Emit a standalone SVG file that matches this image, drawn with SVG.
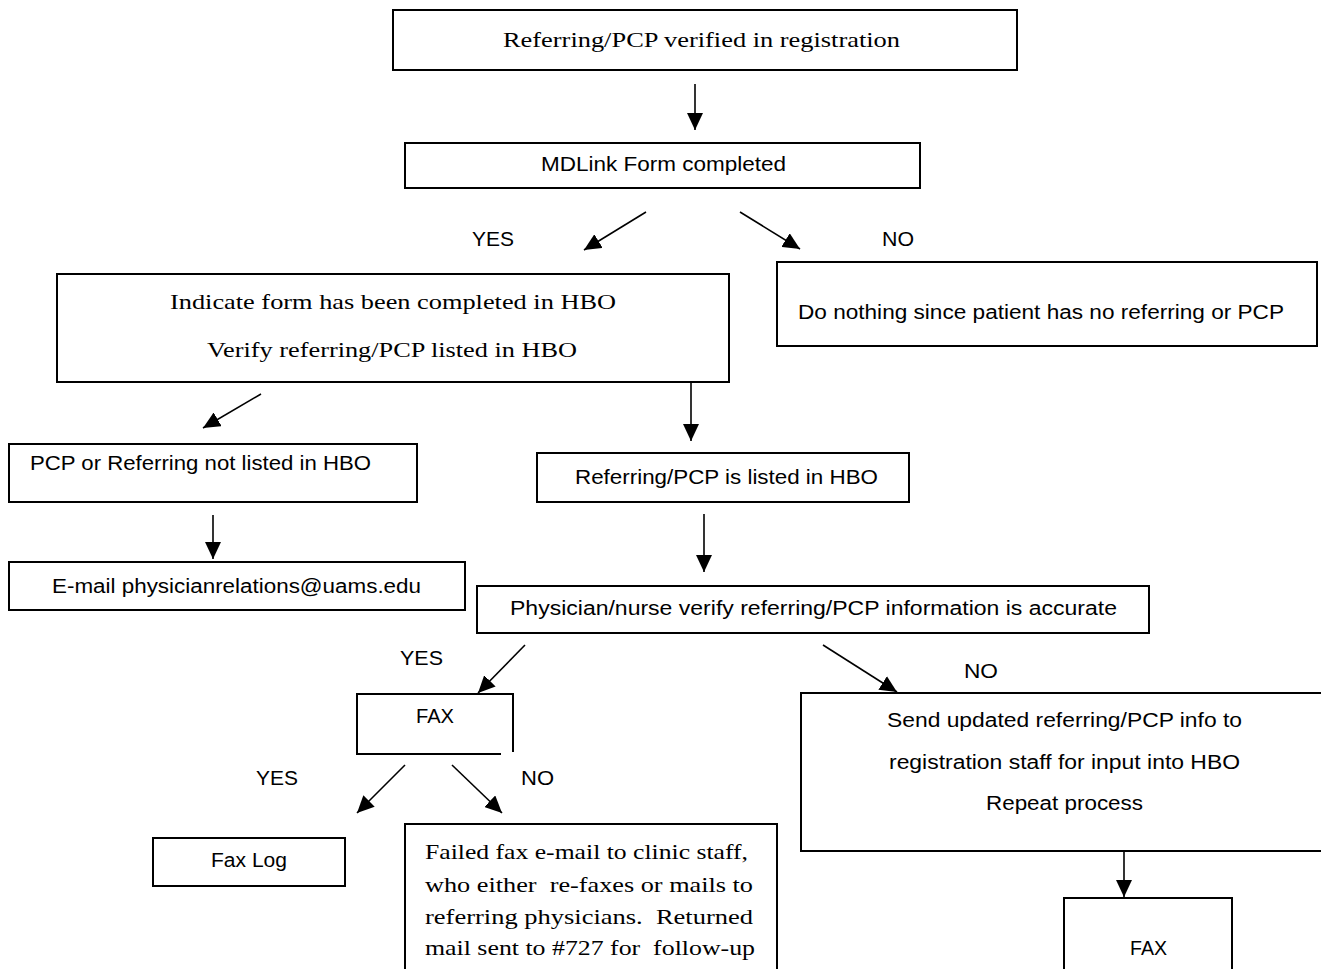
<svg xmlns="http://www.w3.org/2000/svg" width="1321" height="969" viewBox="0 0 1321 969">
<style>
.box{fill:#fff;stroke:#000;stroke-width:2}
.sans{font-family:"Liberation Sans",Arial,sans-serif;font-size:19.5px;fill:#000}
.serif{font-family:"Liberation Serif","Times New Roman",serif;font-size:21px;fill:#000}
.serif2{font-family:"Liberation Serif","Times New Roman",serif;font-size:22px;fill:#000;white-space:pre}
.con{stroke:#000;stroke-width:1.6;fill:none;marker-end:url(#ah)}
</style>
<defs>
<marker id="ah" markerWidth="18" markerHeight="16" refX="17" refY="8" orient="auto" markerUnits="userSpaceOnUse"><path d="M0,0 L17,8 L0,16 Z" fill="#000"/></marker>
</defs>
<rect width="1321" height="969" fill="#fff"/>
<g id="connectors">
<line class="con" x1="695" y1="84" x2="695" y2="130"/>
<line class="con" x1="646" y1="212" x2="584" y2="250"/>
<line class="con" x1="740" y1="212" x2="800" y2="249"/>
<line class="con" x1="261" y1="394" x2="203" y2="428"/>
<line class="con" x1="691" y1="382" x2="691" y2="441"/>
<line class="con" x1="213" y1="515" x2="213" y2="559"/>
<line class="con" x1="704" y1="514" x2="704" y2="572"/>
<line class="con" x1="525" y1="645" x2="478" y2="693"/>
<line class="con" x1="823" y1="645" x2="897" y2="692"/>
<line class="con" x1="405" y1="765" x2="357" y2="813"/>
<line class="con" x1="452" y1="765" x2="502" y2="813"/>
<line class="con" x1="1124" y1="851" x2="1124" y2="897"/>
</g>
<g id="labels">
<text class="sans" x="472" y="246" textLength="42" lengthAdjust="spacingAndGlyphs">YES</text>
<text class="sans" x="882" y="246" textLength="32" lengthAdjust="spacingAndGlyphs">NO</text>
<text class="sans" x="400" y="665" textLength="43" lengthAdjust="spacingAndGlyphs">YES</text>
<text class="sans" x="964" y="678" textLength="34" lengthAdjust="spacingAndGlyphs">NO</text>
<text class="sans" x="256" y="785" textLength="42" lengthAdjust="spacingAndGlyphs">YES</text>
<text class="sans" x="521" y="785" textLength="33" lengthAdjust="spacingAndGlyphs">NO</text>
</g>
<g id="n1">
<rect class="box" x="393" y="10" width="624" height="60"/>
<text class="serif" x="503" y="47" textLength="397" lengthAdjust="spacingAndGlyphs">Referring/PCP verified in registration</text>
</g>
<g id="n2">
<rect class="box" x="405" y="143" width="515" height="45"/>
<text class="sans" x="541" y="171" textLength="245" lengthAdjust="spacingAndGlyphs">MDLink Form completed</text>
</g>
<g id="n3">
<rect class="box" x="57" y="274" width="672" height="108"/>
<text class="serif" x="170" y="309" textLength="446" lengthAdjust="spacingAndGlyphs">Indicate form has been completed in HBO</text>
<text class="serif" x="207" y="357" textLength="370" lengthAdjust="spacingAndGlyphs">Verify referring/PCP listed in HBO</text>
</g>
<g id="n4">
<rect class="box" x="777" y="262" width="540" height="84"/>
<text class="sans" x="798" y="319" textLength="486" lengthAdjust="spacingAndGlyphs">Do nothing since patient has no referring or PCP</text>
</g>
<g id="n5">
<rect class="box" x="9" y="444" width="408" height="58"/>
<text class="sans" x="30" y="470" textLength="341" lengthAdjust="spacingAndGlyphs">PCP or Referring not listed in HBO</text>
</g>
<g id="n6">
<rect class="box" x="537" y="453" width="372" height="49"/>
<text class="sans" x="575" y="484" textLength="303" lengthAdjust="spacingAndGlyphs">Referring/PCP is listed in HBO</text>
</g>
<g id="n7">
<rect class="box" x="9" y="562" width="456" height="48"/>
<text class="sans" x="52" y="593" textLength="369" lengthAdjust="spacingAndGlyphs">E-mail physicianrelations@uams.edu</text>
</g>
<g id="n8">
<rect class="box" x="477" y="586" width="672" height="47"/>
<text class="sans" x="510" y="615" textLength="607" lengthAdjust="spacingAndGlyphs">Physician/nurse verify referring/PCP information is accurate</text>
</g>
<g id="n9">
<path class="box" d="M501,754 H357 V694 H513 V752" fill="none"/>
<text class="sans" x="416" y="723" textLength="38" lengthAdjust="spacingAndGlyphs">FAX</text>
</g>
<g id="n10">
<rect class="box" x="153" y="838" width="192" height="48"/>
<text class="sans" x="211" y="867" textLength="76" lengthAdjust="spacingAndGlyphs">Fax Log</text>
</g>
<g id="n11">
<path class="box" d="M405,975 V824 H777 V975"/>
<text class="serif2" x="425" y="859" textLength="323" lengthAdjust="spacingAndGlyphs">Failed fax e-mail to clinic staff,</text>
<text class="serif2" x="425" y="892" textLength="328" lengthAdjust="spacingAndGlyphs">who either  re-faxes or mails to</text>
<text class="serif2" x="425" y="924" textLength="328" lengthAdjust="spacingAndGlyphs">referring physicians.  Returned</text>
<text class="serif2" x="425" y="955" textLength="330" lengthAdjust="spacingAndGlyphs">mail sent to #727 for  follow-up</text>
</g>
<g id="n12">
<rect class="box" x="801" y="693" width="525" height="158"/>
<text class="sans" x="887" y="727" textLength="355" lengthAdjust="spacingAndGlyphs">Send updated referring/PCP info to</text>
<text class="sans" x="889" y="769" textLength="351" lengthAdjust="spacingAndGlyphs">registration staff for input into HBO</text>
<text class="sans" x="986" y="810" textLength="157" lengthAdjust="spacingAndGlyphs">Repeat process</text>
</g>
<g id="n13">
<path class="box" d="M1064,975 V898 H1232 V975"/>
<text class="sans" x="1130" y="955" textLength="37" lengthAdjust="spacingAndGlyphs">FAX</text>
</g>
</svg>
